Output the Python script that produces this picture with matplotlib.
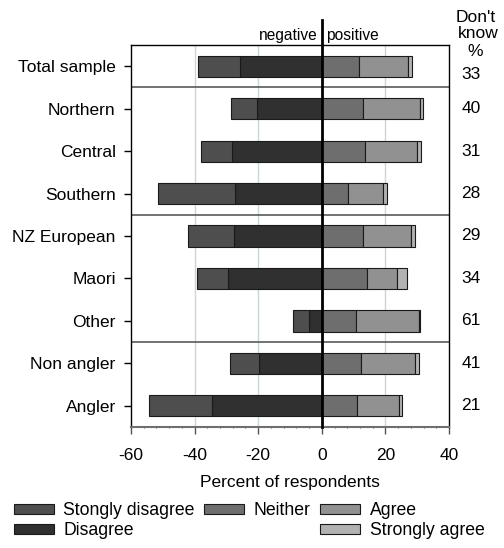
import matplotlib
matplotlib.use("Agg")
import matplotlib.pyplot as plt
from matplotlib.patches import Patch
from matplotlib.ticker import MultipleLocator
from matplotlib.transforms import blended_transform_factory

plt.rcParams['font.family'] = ['Liberation Sans', 'DejaVu Sans']

groups = ["Total sample", "Northern", "Central", "Southern", "NZ European",
          "Maori", "Other", "Non angler", "Angler"]
strongly_disagree = [13.2, 8.3, 9.8, 24.1, 14.4, 9.7, 4.9, 9.3, 19.9]
disagree = [25.8, 20.4, 28.1, 27.4, 27.7, 29.6, 4.1, 19.7, 34.5]
neither = [11.8, 12.8, 13.5, 8.3, 13.0, 14.1, 10.9, 12.2, 11.2]
agree = [15.4, 18.1, 16.3, 10.8, 15.2, 9.4, 19.7, 17.1, 13.1]
strongly_agree = [1.2, 0.8, 1.3, 1.5, 1.0, 3.2, 0.3, 1.4, 1.0]
dont_know = [33, 40, 31, 28, 29, 34, 61, 41, 21]

c_sd, c_d, c_n, c_a, c_sa = "#4e4e4e", "#303030", "#6e6e6e", "#919191", "#b2b2b2"

fig = plt.figure(figsize=(5.04, 5.48), dpi=100)
ax = fig.add_axes([131/504, 1-427/548, 318/504, 382/548])

y = list(range(len(groups)))
h = 0.5
ec = "#1a1a1a"
lw = 0.8
neg_d = [-v for v in disagree]
neg_sd_left = [-(a + b) for a, b in zip(disagree, strongly_disagree)]
ax.barh(y, disagree, left=neg_d, height=h, color=c_d, edgecolor=ec, linewidth=lw, zorder=3)
ax.barh(y, strongly_disagree, left=neg_sd_left, height=h, color=c_sd, edgecolor=ec, linewidth=lw, zorder=3)
ax.barh(y, neither, left=0, height=h, color=c_n, edgecolor=ec, linewidth=lw, zorder=3)
ax.barh(y, agree, left=neither, height=h, color=c_a, edgecolor=ec, linewidth=lw, zorder=3)
ax.barh(y, strongly_agree, left=[a + b for a, b in zip(neither, agree)], height=h,
        color=c_sa, edgecolor=ec, linewidth=lw, zorder=3)

ax.set_xlim(-60, 40)
ax.set_ylim(8.5, -0.5)
for gx in [-40, -20, 20]:
    ax.axvline(gx, color="#c8dacf", lw=1, zorder=0)
for dy in [0.5, 3.5, 6.5]:
    ax.axhline(dy, color="#5a5a5a", lw=1.2, zorder=2)
ax.axvline(0, ymin=0, ymax=(427-20)/382, color="black", lw=2, zorder=5, clip_on=False)

ax.set_yticks(y)
ax.set_yticklabels(groups, fontsize=12.5)
ax.set_xticks([-60, -40, -20, 0, 20, 40])
ax.set_xticklabels(["-60", "-40", "-20", "0", "20", "40"], fontsize=12.5)
ax.xaxis.set_minor_locator(MultipleLocator(4))
ax.tick_params(axis='y', length=5, width=1, pad=6)
ax.tick_params(axis='x', which='major', length=5, width=1, color="#555555", pad=10)
ax.tick_params(axis='x', which='minor', length=2, width=0.8, direction='inout', color="#555555")
ax.set_xlabel("Percent of respondents", fontsize=12.5, labelpad=9)

for s in ["top", "left", "right"]:
    ax.spines[s].set_color("black")
    ax.spines[s].set_linewidth(1)
ax.spines["bottom"].set_color("#707070")
ax.spines["bottom"].set_linewidth(1.5)

ax.text(-1.2, -0.55, "negative", ha="right", va="bottom", fontsize=11.2)
ax.text(1.2, -0.55, "positive", ha="left", va="bottom", fontsize=11.2)

for txt, px, py in [("Don't", 476, 17), ("know", 478, 34), ("%", 475, 51)]:
    fig.text(px / 504, 1 - py / 548, txt, ha="center", va="center", fontsize=12.5)

tr = blended_transform_factory(ax.transAxes, ax.transData)
xr = (471 - 131) / 318
for i, v in enumerate(dont_know):
    yy = i + (0.19 if i == 0 else 0)
    ax.text(xr, yy, str(v), ha="center", va="center", fontsize=12.5, transform=tr)

blank = Patch(facecolor="none", edgecolor="none")
handles = [Patch(facecolor=c_sd, edgecolor=ec, lw=lw),
           Patch(facecolor=c_d, edgecolor=ec, lw=lw),
           Patch(facecolor=c_n, edgecolor=ec, lw=lw),
           blank,
           Patch(facecolor=c_a, edgecolor=ec, lw=lw),
           Patch(facecolor=c_sa, edgecolor=ec, lw=lw)]
labels = ["Stongly disagree", "Disagree", "Neither", "", "Agree", "Strongly agree"]
fig.legend(handles, labels, ncol=3, loc="upper left", bbox_to_anchor=(14/504, 1-502/548),
           frameon=False, fontsize=12.7, handlelength=2.25, handleheight=0.5,
           handletextpad=0.55, columnspacing=0.55, labelspacing=0.18, borderpad=0,
           borderaxespad=0)

fig.savefig("out.png", dpi=100)
